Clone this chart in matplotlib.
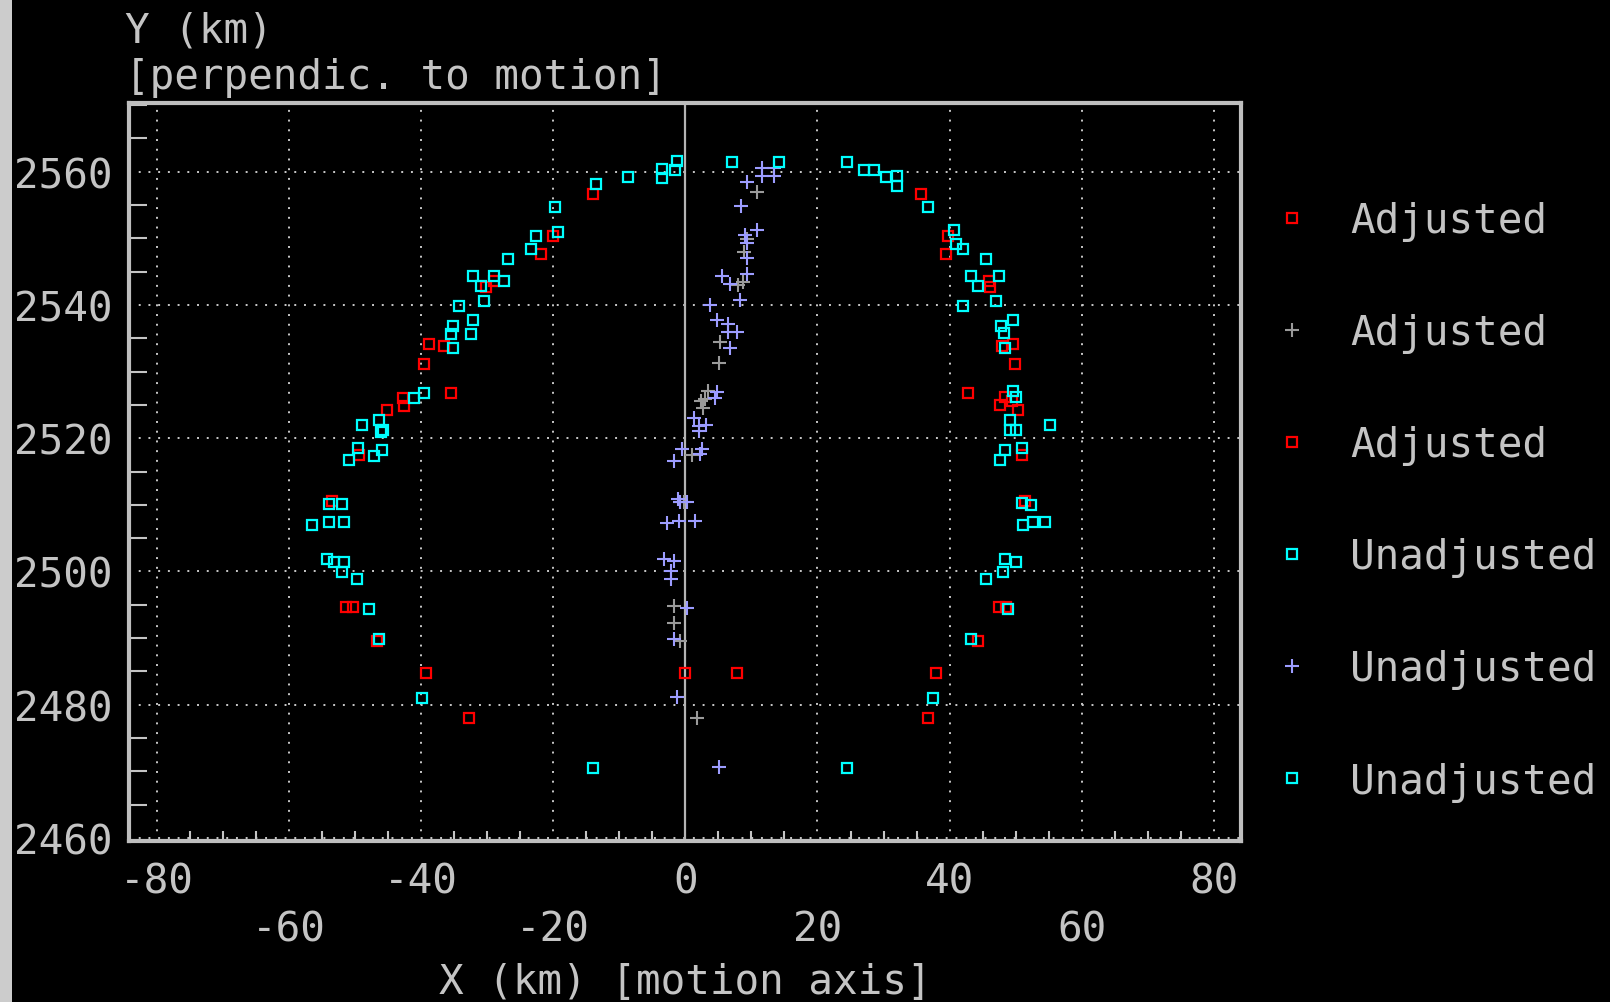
import numpy as np
import matplotlib
matplotlib.use("Agg")
import matplotlib.pyplot as plt
from matplotlib.patches import Rectangle

# --- data (km) ---
# Adjusted, red squares (left branch)
adj1_x = [-53.5, -49.4, -45.2, -42.8, -42.6, -35.5, -39.6, -38.8, -36.6, -30.2,
          -29.0, -21.9, -20.0, -14.0, -51.3, -50.3, -46.7, -39.2, -32.8, -0.1]
adj1_y = [2510.5, 2517.5, 2524.2, 2526.1, 2524.9, 2526.8, 2531.2, 2534.2, 2533.8, 2542.7,
          2543.6, 2547.7, 2550.3, 2556.6, 2494.7, 2494.7, 2489.6, 2484.7, 2478.0, 2484.7]

# Adjusted, grey plus
adj2_x = [10.8, 9.4, 8.9, 7.9, 8.8, 5.2, 5.1, 3.5, 3.0, 2.6, 2.3, 1.0, -0.2, -0.8,
          -1.7, -1.7, -0.8, 1.7]
adj2_y = [2556.9, 2549.9, 2547.9, 2543.0, 2543.5, 2534.4, 2531.3, 2527.1, 2525.9, 2524.6,
          2525.6, 2517.5, 2510.4, 2510.4, 2494.8, 2492.2, 2489.6, 2478.0]

# Adjusted, red squares (right branch)
adj3_x = [35.6, 39.8, 39.4, 45.9, 46.1, 48.0, 49.6, 49.9, 42.8, 48.4, 47.7, 49.4, 50.3,
          51.0, 51.4, 47.4, 48.5, 44.3, 37.9, 36.8, 7.8]
adj3_y = [2556.6, 2550.3, 2547.7, 2543.6, 2542.7, 2533.8, 2534.2, 2531.2, 2526.8, 2526.2,
          2525.0, 2525.6, 2524.2, 2517.5, 2510.5, 2494.7, 2494.7, 2489.5, 2484.7, 2478.0, 2484.7]

# Unadjusted, cyan squares (left branch)
una1_x = [-49.0, -46.4, -45.7, -46.1, -49.5, -50.9, -47.1, -45.9, -53.9, -52.0, -56.5,
          -53.9, -51.6, -54.3, -53.2, -51.6, -52.0, -49.7, -47.9, -46.3, -41.1, -39.6,
          -35.1, -35.5, -35.1, -32.5, -32.1, -34.3, -30.5, -32.1, -31.0, -29.0, -27.5,
          -26.8, -23.4, -22.6, -19.3, -19.7, -13.5, -8.7, -3.5, -3.5, -1.6, -1.2,
          -39.9, -14.0]
una1_y = [2522.0, 2522.7, 2521.2, 2521.0, 2518.5, 2516.7, 2517.4, 2518.2, 2510.1, 2510.1,
          2507.0, 2507.4, 2507.4, 2501.8, 2501.4, 2501.4, 2499.9, 2498.8, 2494.3, 2489.9,
          2526.1, 2526.8, 2533.6, 2535.7, 2536.9, 2535.7, 2537.7, 2539.8, 2540.6, 2544.3,
          2542.8, 2544.3, 2543.6, 2546.9, 2548.4, 2550.3, 2551.0, 2554.7, 2558.1, 2559.2,
          2560.4, 2559.1, 2560.2, 2561.6, 2481.0, 2470.5]

# Unadjusted, lavender plus
una2_x = [11.6, 11.6, 13.4, 13.4, 9.3, 8.5, 10.8, 9.0, 9.3, 9.3, 9.3, 5.5, 6.7, 8.2,
          3.7, 4.8, 6.4, 7.8, 6.4, 6.7, 4.8, 4.5, 1.3, 2.0, 3.2, 2.0, -0.5, -1.7, 2.5,
          2.2, -0.8, 0.2, -1.1, -2.8, -0.9, 1.4, -3.2, -1.7, -2.2, -2.1, 0.2, -1.7,
          -1.3, 5.1]
una2_y = [2560.6, 2559.3, 2560.6, 2559.3, 2558.4, 2554.8, 2551.3, 2550.5, 2549.3, 2547.1,
          2544.6, 2544.4, 2543.1, 2540.8, 2540.0, 2537.8, 2537.1, 2536.0, 2535.9, 2533.6,
          2526.9, 2526.1, 2523.0, 2521.8, 2522.0, 2521.1, 2518.4, 2516.6, 2518.4, 2517.6,
          2510.4, 2510.4, 2510.9, 2507.3, 2507.5, 2507.5, 2501.9, 2501.6, 2500.1, 2498.9,
          2494.5, 2489.9, 2481.1, 2470.7]

# Unadjusted, cyan squares (right branch)
una3_x = [7.0, 14.2, 24.4, 27.0, 28.5, 30.4, 32.0, 32.0, 36.8, 40.6, 40.9, 42.1, 45.5,
          43.2, 44.3, 47.4, 42.1, 47.0, 49.6, 47.8, 48.3, 48.4, 49.6, 50.0, 49.2, 49.2,
          50.0, 55.2, 48.4, 47.7, 51.0, 51.0, 52.3, 51.1, 52.6, 54.5, 48.4, 50.0, 48.1,
          45.5, 48.9, 43.2, 37.5, 24.4]
una3_y = [2561.5, 2561.5, 2561.5, 2560.3, 2560.3, 2559.2, 2559.3, 2557.9, 2554.7, 2551.2,
          2549.2, 2548.4, 2546.9, 2544.3, 2542.8, 2544.3, 2539.8, 2540.6, 2537.7, 2536.9,
          2535.8, 2533.6, 2527.1, 2526.2, 2522.7, 2521.2, 2521.2, 2522.0, 2518.3, 2516.7,
          2518.5, 2510.3, 2510.0, 2507.0, 2507.4, 2507.4, 2501.8, 2501.4, 2499.9, 2498.8,
          2494.3, 2489.9, 2481.0, 2470.5]

x_major = [-80, -60, -40, -20, 0, 20, 40, 60, 80]
x_labels = ["-80", "\n-60", "-40", "\n-20", "0", "\n20", "40", "\n60", "80"]
y_major = [2460, 2480, 2500, 2520, 2540, 2560]

FG = "#c4c4c4"
FONT = "DejaVu Sans Mono"
FS = 29.5

plt.rcParams["font.family"] = FONT

fig = plt.figure(figsize=(16.1, 10.03), dpi=100, facecolor="black")
fig.patches.append(Rectangle((0, 0), 12 / 1610, 1, transform=fig.transFigure,
                             facecolor="#cccccc", edgecolor="none", zorder=0))

ax = fig.add_axes([129 / 1610, 161 / 1003, 1112 / 1610, 738 / 1003])
ax.set_facecolor("black")

sq = dict(linestyle="none", marker="s", markersize=7, markerfacecolor="none",
          markeredgewidth=1.6)
pl = dict(linestyle="none", marker="+", markersize=10, markeredgewidth=1.5)

ax.axvline(0, color="#b4b4b4", linewidth=1.6, zorder=1)

h1, = ax.plot(adj1_x, adj1_y, markeredgecolor="#ff0000", label="Adjusted", **sq)
h2, = ax.plot(adj2_x, adj2_y, color="#9a9a9a", label="Adjusted", **pl)
h3, = ax.plot(adj3_x, adj3_y, markeredgecolor="#ff0000", label="Adjusted", **sq)
h4, = ax.plot(una1_x, una1_y, markeredgecolor="#00ffff", label="Unadjusted", **sq)
h5, = ax.plot(una2_x, una2_y, color="#9c9cff", label="Unadjusted", **pl)
h6, = ax.plot(una3_x, una3_y, markeredgecolor="#00ffff", label="Unadjusted", **sq)

ax.set_xlim(-84.2, 84.1)
ax.set_ylim(2459.55, 2570.3)

ax.set_xticks(x_major)
ax.set_xticklabels(x_labels, linespacing=1.25)
ax.set_yticks(y_major)
ax.set_xticks([v for v in np.arange(-80, 81, 5) if v % 20 != 0], minor=True)
ax.set_yticks([v for v in np.arange(2460, 2571, 5) if v % 20 != 0], minor=True)

ax.tick_params(which="major", length=0, colors=FG, labelsize=FS)
ax.tick_params(axis="y", which="major", pad=12)
ax.tick_params(axis="x", which="major", pad=15)
ax.tick_params(axis="y", which="minor", direction="in", length=13, width=1.5, color=FG)
ax.tick_params(axis="x", which="minor", direction="in", length=7, width=1.5, color=FG)

ax.grid(True, which="major", color="#c8c8c8", linewidth=1.4, linestyle=(0, (1, 4)))
ax.set_axisbelow(True)

for s in ax.spines.values():
    s.set_color("#bebebe")
    s.set_linewidth(3)

fig.text(125 / 1610, 1 - 31 / 1003, "Y (km)", color=FG, fontsize=FS,
         ha="left", va="center")
fig.text(125 / 1610, 1 - 78 / 1003, "[perpendic. to motion]", color=FG, fontsize=FS,
         ha="left", va="center")
fig.text(685 / 1610, 1 - 983 / 1003, "X (km) [motion axis]", color=FG, fontsize=FS,
         ha="center", va="center")

leg = ax.legend(handles=[h1, h2, h3, h4, h5, h6], loc="upper left",
                bbox_to_anchor=(1272 / 1610, 1 - 202 / 1003),
                bbox_transform=fig.transFigure, frameon=False, fontsize=FS,
                labelcolor=FG, handlelength=1.0, handletextpad=0.9,
                labelspacing=1.76, borderpad=0, borderaxespad=0)

fig.savefig("out.png", dpi=100, facecolor="black")
